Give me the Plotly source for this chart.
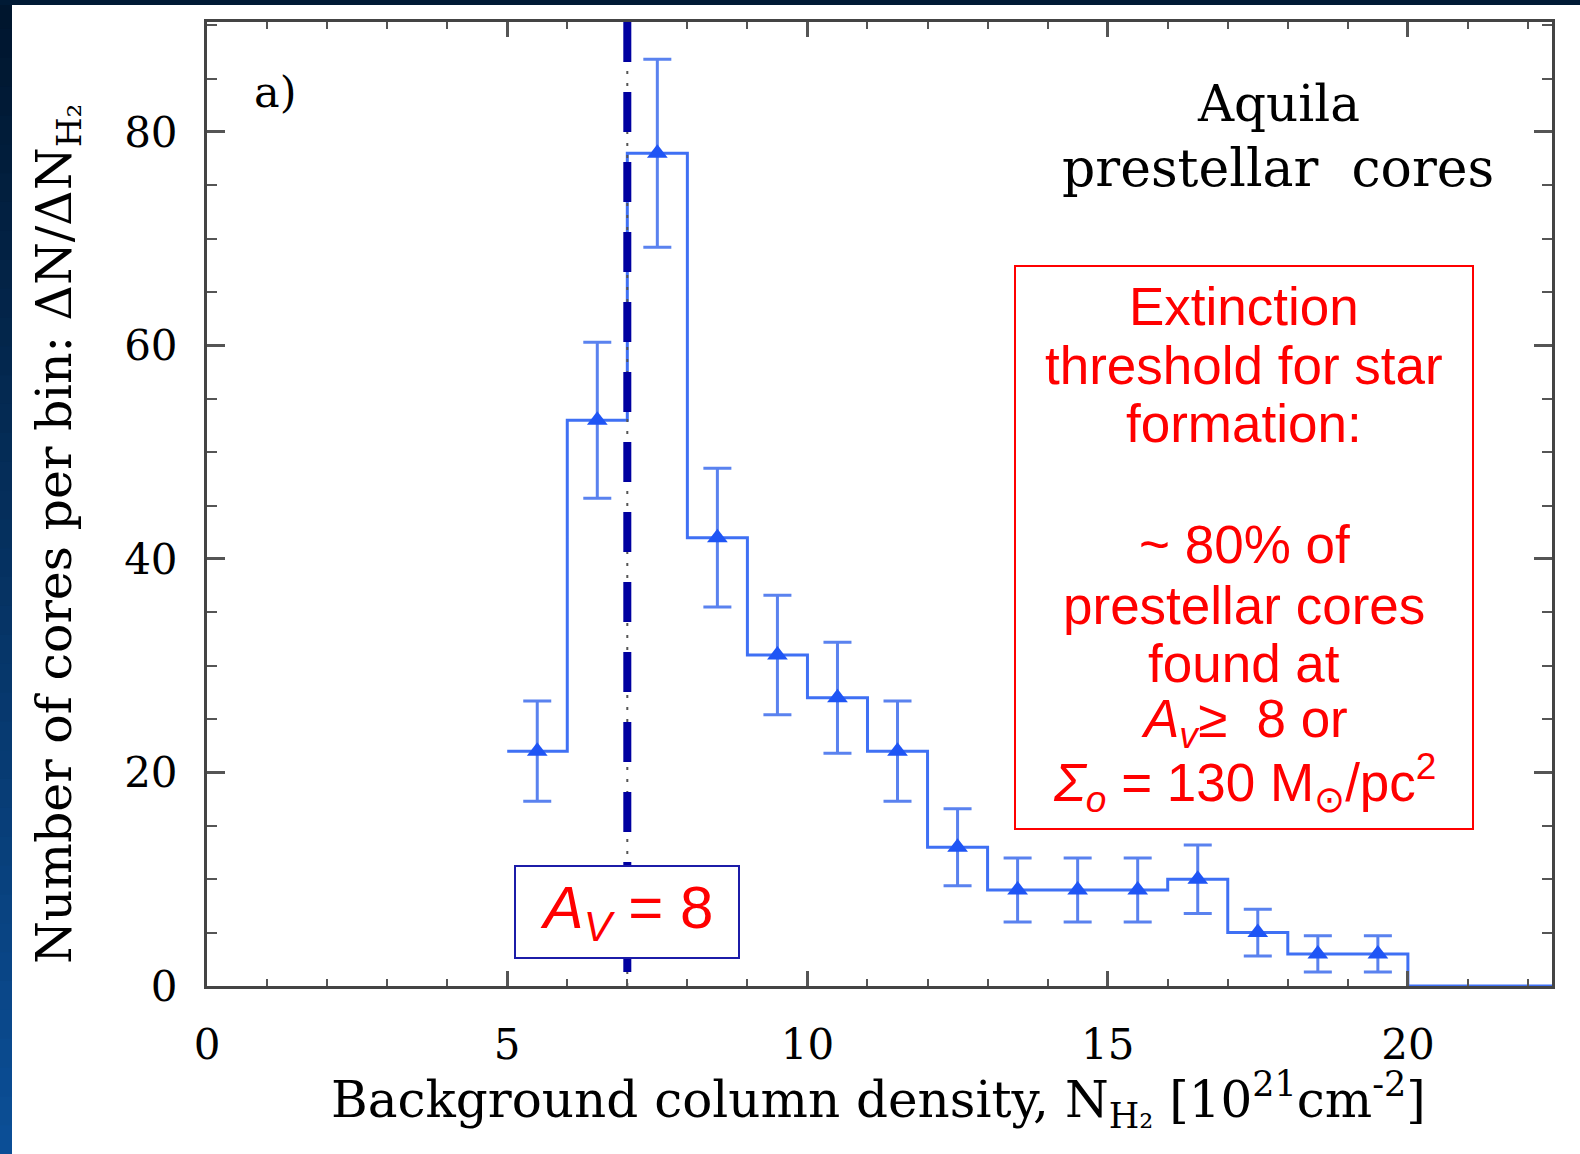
import plotly.graph_objects as go

# ---------------- data ----------------
bin_edges = [5, 6, 7, 8, 9, 10, 11, 12, 13, 14, 15, 16, 17, 18, 19, 20]
counts = [22, 53, 78, 42, 31, 27, 22, 13, 9, 9, 9, 10, 5, 3, 3]
errors = [4.7, 7.3, 8.8, 6.5, 5.6, 5.2, 4.7, 3.6, 3.0, 3.0, 3.0, 3.2, 2.2, 1.7, 1.7]
threshold_x = 7
x_max = 22.4
y_max = 90.3
x_ticks = [0, 5, 10, 15, 20]
y_ticks = [0, 20, 40, 60, 80]

bin_centers = [(a + b) / 2 for a, b in zip(bin_edges[:-1], bin_edges[1:])]
step_x = bin_edges + [x_max]
step_y = counts + [0, 0]

# ---------------- geometry (pixels) ----------------
W, H = 1580, 1154
L, R, T, B = 207, 1552, 22, 986


def px_x(x):
    return (x - L) / (R - L)


def px_y(y):
    return (B - y) / (B - T)


HIST = "#3f70f4"
MARK = "#1f55f5"
ERR = "#5a82ef"
SERIF = "DejaVu Serif"
SANS = "Liberation Sans, Arial"

fig = go.Figure()

fig.add_trace(go.Scatter(
    x=step_x, y=step_y, mode="lines", line=dict(color=HIST, width=3, shape="hv"),
    hoverinfo="skip", showlegend=False,
))
fig.add_trace(go.Scatter(
    x=bin_centers, y=counts, mode="markers",
    marker=dict(symbol="triangle-up", size=18, color=MARK),
    error_y=dict(type="data", array=errors, visible=True, color=ERR, thickness=3, width=14),
    showlegend=False,
))

shapes = []
# dark frame: top strip and gradient left strip
n_band = 40
c0 = (0, 22, 46)
c1 = (11, 78, 150)
for i in range(n_band):
    t = i / (n_band - 1)
    col = "rgb(%d,%d,%d)" % tuple(round(a + (b - a) * t) for a, b in zip(c0, c1))
    y0 = H * i / n_band
    y1 = H * (i + 1) / n_band + 1
    shapes.append(dict(type="rect", xref="paper", yref="paper",
                       x0=px_x(0), x1=px_x(12), y0=px_y(y0), y1=px_y(y1),
                       fillcolor=col, line=dict(width=0), layer="below"))
shapes.append(dict(type="rect", xref="paper", yref="paper",
                   x0=px_x(0), x1=px_x(W), y0=px_y(0), y1=px_y(5),
                   fillcolor="#001a35", line=dict(width=0), layer="below"))

# thin original dash-dot line and thick dashed threshold line
shapes.append(dict(type="line", xref="x", yref="paper", x0=threshold_x, x1=threshold_x,
                   y0=0, y1=1, line=dict(color="#555555", width=2, dash="3px,9px"), layer="above"))
shapes.append(dict(type="line", xref="x", yref="paper", x0=threshold_x, x1=threshold_x,
                   y0=1, y1=0, line=dict(color="#0000a0", width=8, dash="40px,30px"), layer="above"))

# red info box
shapes.append(dict(type="rect", xref="paper", yref="paper",
                   x0=px_x(1015), x1=px_x(1473), y0=px_y(829), y1=px_y(266),
                   line=dict(color="#ff0000", width=2), fillcolor="rgba(0,0,0,0)", layer="above"))

annotations = []


def ann(text, xp, yp, size, family=SERIF, color="black", **kw):
    d = dict(text=text, x=px_x(xp), y=px_y(yp), xref="paper", yref="paper",
             showarrow=False, font=dict(family=family, size=size, color=color),
             xanchor="center", yanchor="middle")
    d.update(kw)
    annotations.append(d)


ann("a)", 252, 92, 43, xanchor="left")
ann("Aquila", 1278, 104, 50)
ann("prestellar  cores", 1278, 168, 52)
ann("Number of cores per bin: ΔN/ΔN<sub>H₂</sub>", 57, 534, 49, textangle=-90)
ann("Background column density, N<sub>H₂</sub> [10<sup>21</sup>cm<sup>-2</sup>]", 878, 1100, 50)

red_lines = [
    ("Extinction", 307),
    ("threshold for star", 366),
    ("formation:", 424),
    ("~ 80% of", 544),
    ("prestellar cores", 605),
    ("found at", 663),
    ("<i>A<sub>v</sub></i>≥  8 or", 722),
    ("<i>Σ<sub>o</sub></i> = 130 M<sub>⊙</sub>/pc<sup>2</sup>", 782),
]
for txt, yp in red_lines:
    ann(txt, 1244, yp, 53, family=SANS, color="#ff0000")

# A_V = 8 box
annotations.append(dict(
    text="<i>A<sub>V</sub></i> = 8", x=threshold_x, xref="x", y=px_y(912), yref="paper",
    showarrow=False, font=dict(family=SANS, size=60, color="#ff0000"),
    xanchor="center", yanchor="middle", bgcolor="white", bordercolor="#1c1ca8",
    borderwidth=2, borderpad=1, width=220, height=88,
))

axis_common = dict(
    showline=True, linecolor="#444444", linewidth=3, mirror="allticks",
    ticks="inside", tickcolor="#555555", tickwidth=2.5,
    showgrid=False, zeroline=False,
    tickfont=dict(family=SERIF, size=42, color="black"),
)

fig.update_layout(
    width=W, height=H,
    margin=dict(l=L, r=W - R, t=T, b=H - B),
    paper_bgcolor="white", plot_bgcolor="white",
    shapes=shapes, annotations=annotations,
    xaxis=dict(range=[0, x_max], tickvals=x_ticks, ticklen=15, ticklabelstandoff=20,
               minor=dict(dtick=1, tick0=0, ticks="inside", ticklen=7,
                          tickcolor="#555555", tickwidth=2, showgrid=False),
               **axis_common),
    yaxis=dict(range=[0, y_max], tickvals=y_ticks, ticklen=18, ticklabelstandoff=18,
               minor=dict(dtick=5, tick0=0, ticks="inside", ticklen=10,
                          tickcolor="#555555", tickwidth=2, showgrid=False),
               **axis_common),
)

fig.write_html("out.html")
